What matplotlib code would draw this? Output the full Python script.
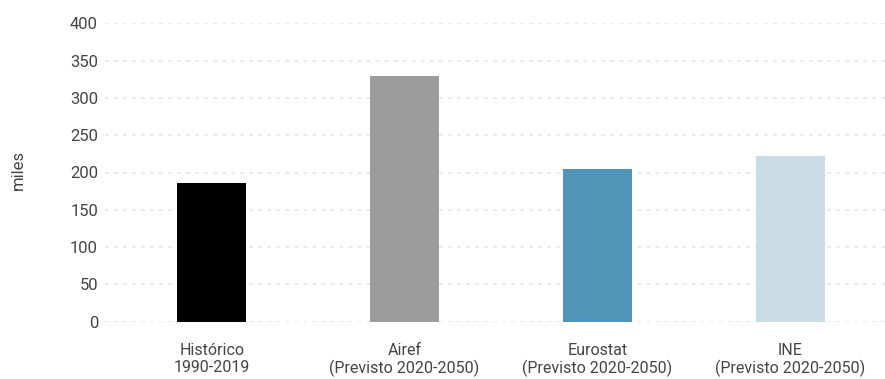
import matplotlib
matplotlib.use("Agg")
import matplotlib.pyplot as plt

categories = ["Histórico\n1990-2019", "Airef\n(Previsto 2020-2050)",
              "Eurostat\n(Previsto 2020-2050)", "INE\n(Previsto 2020-2050)"]
values = [186, 330, 205, 222]
colors = ["#000000", "#9c9c9c", "#4f96b8", "#cadce6"]
yticks = [0, 50, 100, 150, 200, 250, 300, 350, 400]

fig = plt.figure(figsize=(8.85, 3.79), dpi=100)
ax = fig.add_axes([105/885, 1-321.7/379, 780/885, (321.7-23.3)/379])

x = list(range(len(categories)))
ax.bar(x, values, width=0.355, color=colors, zorder=3)

ax.set_ylim(0, 400)
ax.set_xlim(-0.553, 3.49)
ax.set_yticks(yticks)
ax.set_yticklabels([str(t) for t in yticks], family="Roboto", fontsize=12, color="#444444")
ax.set_xticks(x)
ax.set_xticklabels(categories, family="Roboto", fontsize=11.5, color="#444444", linespacing=1.2)
ax.tick_params(axis="both", length=0)
ax.tick_params(axis="x", pad=15)
ax.tick_params(axis="y", pad=5)

for s in ax.spines.values():
    s.set_visible(False)

ax.yaxis.grid(True, color="#e8e8e8", linewidth=1.3, linestyle=(0, (2, 3)), zorder=0)
ax.xaxis.grid(False)

fig.text(18/885, 1-170/379, "miles", rotation=90, ha="center", va="center",
         family="Roboto", fontsize=12, color="#444444")

fig.savefig("out.png", dpi=100)
